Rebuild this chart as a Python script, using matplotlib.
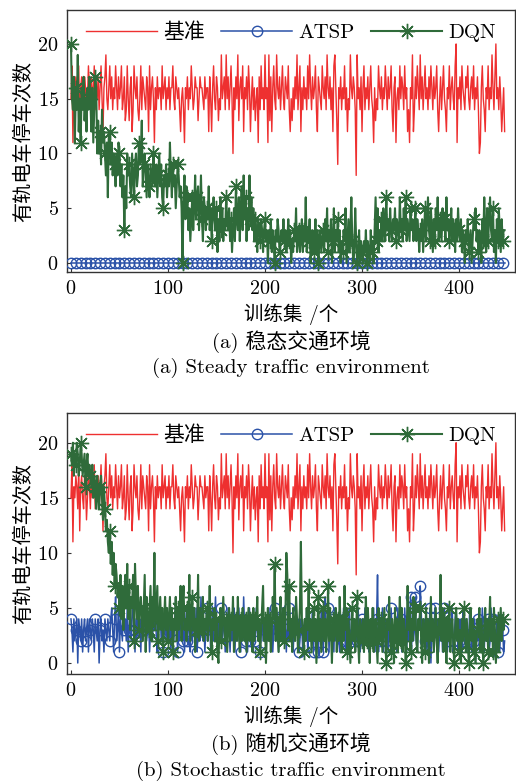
import numpy as np
import matplotlib
matplotlib.use("Agg")
import matplotlib.pyplot as plt

# ============================================================
# Data (stop counts per training episode)
# ============================================================
baseline = [
    15, 18, 11, 16, 15, 17, 16, 14, 18, 12, 16, 17, 15, 14, 17, 16, 13, 15, 18, 16,
    14, 17, 15, 16, 18, 14, 16, 15, 17, 14, 16, 18, 15, 12, 16, 17, 19, 15, 14, 16,
    18, 15, 17, 14, 16, 15, 18, 16, 14, 17, 15, 16, 18, 14, 15, 17, 13, 14, 18, 15,
    13, 16, 17, 12, 14, 18, 16, 15, 17, 14, 13, 15, 18, 14, 17, 16, 15, 14, 17, 16,
    12, 18, 14, 16, 17, 15, 11, 16, 14, 17, 15, 16, 16, 14, 18, 15, 16, 17, 14, 16,
    15, 17, 14, 16, 16, 18, 15, 14, 17, 16, 15, 16, 14, 12, 15, 16, 14, 11, 16, 15,
    17, 14, 16, 15, 18, 16, 14, 15, 17, 16, 16, 13, 15, 17, 16, 16, 15, 14, 17, 15,
    16, 16, 12, 17, 15, 12, 16, 18, 15, 14, 17, 16, 13, 15, 14, 19, 15, 16, 17, 14,
    19, 15, 17, 14, 16, 18, 15, 10, 16, 14, 17, 15, 19, 13, 16, 17, 15, 18, 12, 16,
    15, 17, 14, 18, 16, 12, 15, 17, 14, 16, 13, 15, 16, 11, 17, 14, 18, 15, 16, 14,
    19, 15, 16, 11, 19, 13, 17, 12, 16, 18, 15, 14, 19, 16, 15, 17, 14, 16, 18, 15,
    14, 17, 16, 15, 18, 14, 12, 15, 13, 16, 14, 17, 15, 19, 14, 16, 18, 12, 16, 14,
    17, 15, 16, 14, 18, 15, 19, 16, 14, 17, 15, 16, 18, 14, 12, 17, 16, 15, 14, 18,
    16, 15, 17, 14, 19, 16, 15, 17, 14, 16, 12, 18, 19, 16, 13, 9, 16, 15, 17, 14,
    16, 15, 18, 14, 16, 12, 15, 14, 19, 16, 15, 17, 16, 14, 8, 19, 15, 16, 14, 17,
    12, 16, 18, 14, 16, 15, 17, 14, 16, 18, 15, 14, 11, 16, 13, 15, 14, 18, 16, 15,
    17, 14, 16, 15, 18, 16, 14, 17, 15, 16, 18, 14, 12, 16, 17, 11, 15, 16, 14, 18,
    15, 17, 16, 14, 18, 15, 16, 12, 14, 11, 16, 15, 19, 12, 14, 17, 15, 18, 16, 14,
    19, 15, 17, 14, 16, 18, 15, 16, 14, 17, 15, 18, 16, 14, 17, 15, 16, 18, 14, 12,
    15, 17, 14, 16, 18, 15, 14, 12, 16, 15, 18, 14, 16, 17, 15, 14, 18, 20, 11, 16,
    15, 17, 14, 18, 16, 15, 14, 17, 16, 18, 15, 14, 16, 17, 15, 18, 14, 16, 15, 17,
    14, 10, 11, 16, 18, 15, 14, 12, 16, 15, 18, 14, 16, 15, 19, 16, 14, 17, 20, 15,
    16, 14, 17, 15, 12, 14, 16, 12,
]

# (a) steady traffic: ATSP never stops
atsp_steady = [0] * len(baseline)

dqn_steady = [
    20, 15, 14, 17, 11, 16, 14, 19, 12, 15, 11, 16, 14, 17, 13, 15, 12, 16, 14, 17,
    15, 12, 16, 11, 14, 17, 16, 10, 13, 10, 12, 9, 14, 11, 12, 10, 8, 11, 6, 12,
    12, 9, 11, 8, 10, 9, 7, 10, 8, 11, 10, 7, 9, 6, 8, 3, 7, 5, 10, 8,
    9, 7, 6, 10, 8, 6, 9, 10, 7, 8, 11, 9, 10, 13, 7, 9, 10, 8, 6, 9,
    7, 6, 9, 8, 7, 10, 8, 7, 9, 6, 8, 10, 7, 9, 6, 5, 8, 7, 9, 6,
    8, 7, 11, 8, 6, 9, 7, 8, 5, 7, 9, 8, 6, 7, 5, 0, 6, 8, 4, 7,
    6, 3, 5, 2, 4, 6, 3, 5, 8, 4, 6, 7, 3, 5, 8, 4, 2, 6, 5, 3,
    5, 4, 7, 3, 5, 2, 4, 6, 4, 3, 5, 1, 4, 2, 6, 3, 5, 2, 4, 3,
    6, 4, 3, 5, 2, 4, 1, 3, 5, 2, 7, 4, 3, 6, 2, 5, 7, 3, 8, 4,
    6, 2, 5, 3, 8, 4, 6, 3, 5, 2, 4, 3, 1, 4, 3, 2, 4, 3, 1, 3,
    4, 2, 3, 0, 3, 2, 4, 1, 3, 2, 0, 3, 2, 4, 3, 1, 2, 3, 2, 4,
    2, 3, 1, 2, 4, 2, 3, 0, 2, 1, 3, 2, 5, 1, 2, 3, 1, 2, 4, 1,
    3, 2, 6, 1, 3, 2, 4, 0, 2, 3, 1, 2, 4, 1, 3, 0, 2, 3, 1, 2,
    3, 1, 4, 2, 5, 1, 3, 2, 4, 0, 2, 5, 1, 3, 2, 4, 1, 3, 0, 2,
    1, 3, 2, 5, 0, 2, 4, 1, 3, 6, 2, 0, 1, 5, 2, 0, 1, 3, 0, 2,
    1, 0, 2, 1, 3, 0, 2, 1, 0, 3, 1, 2, 0, 3, 6, 2, 5, 1, 3, 2,
    4, 2, 5, 3, 2, 6, 3, 4, 2, 5, 3, 2, 4, 3, 5, 2, 4, 3, 2, 6,
    3, 4, 2, 5, 3, 6, 2, 4, 3, 2, 5, 3, 4, 2, 3, 5, 2, 4, 3, 1,
    3, 2, 4, 1, 3, 5, 2, 4, 6, 3, 2, 5, 3, 1, 4, 2, 5, 3, 6, 2,
    4, 3, 2, 5, 3, 4, 2, 6, 3, 4, 2, 3, 5, 2, 4, 3, 1, 4, 2, 5,
    3, 2, 4, 1, 3, 2, 0, 3, 2, 4, 1, 2, 3, 0, 2, 4, 3, 5, 2, 3,
    1, 3, 2, 0, 4, 2, 6, 3, 1, 5, 2, 4, 6, 3, 2, 5, 1, 3, 0, 4,
    2, 5, 3, 1, 4, 2, 3, 3,
]

# (b) stochastic traffic
atsp_stochastic = [
    4, 3, 1, 4, 2, 3, 4, 0, 4, 3, 2, 4, 1, 3, 4, 2, 3, 4, 1, 4,
    3, 2, 4, 3, 1, 4, 3, 2, 4, 0, 3, 4, 2, 3, 1, 4, 3, 2, 4, 3,
    2, 4, 5, 3, 1, 4, 6, 2, 3, 5, 1, 4, 3, 2, 6, 3, 4, 2, 5, 1,
    3, 5, 2, 4, 6, 3, 1, 4, 2, 5, 3, 4, 1, 5, 2, 3, 4, 6, 2, 3,
    4, 1, 3, 5, 2, 4, 3, 6, 2, 1, 4, 3, 5, 2, 4, 1, 3, 5, 2, 4,
    3, 2, 5, 1, 4, 3, 2, 4, 6, 3, 1, 4, 2, 5, 3, 2, 4, 1, 3, 5,
    2, 4, 3, 1, 5, 2, 4, 3, 2, 5, 1, 3, 4, 2, 6, 3, 2, 4, 1, 3,
    5, 2, 3, 4, 1, 3, 5, 2, 4, 6, 3, 1, 4, 2, 3, 5, 2, 4, 3, 1,
    4, 2, 5, 3, 1, 4, 2, 3, 5, 1, 4, 3, 2, 5, 3, 1, 4, 2, 6, 3,
    2, 4, 1, 3, 5, 2, 4, 3, 1, 4, 2, 5, 3, 2, 4, 1, 3, 5, 2, 4,
    3, 1, 4, 2, 5, 3, 2, 4, 1, 3, 5, 2, 4, 3, 1, 4, 2, 3, 5, 2,
    4, 3, 1, 4, 2, 5, 3, 2, 4, 1, 3, 2, 5, 3, 4, 1, 2, 4, 3, 1,
    3, 4, 2, 5, 1, 3, 4, 2, 3, 5, 1, 4, 2, 3, 4, 1, 3, 2, 5, 3,
    1, 4, 6, 2, 3, 5, 1, 4, 2, 3, 4, 1, 5, 2, 3, 4, 2, 1, 4, 3,
    2, 5, 3, 1, 4, 2, 3, 5, 1, 3, 2, 4, 3, 1, 4, 2, 5, 3, 1, 2,
    4, 3, 1, 5, 2, 3, 4, 1, 2, 4, 3, 2, 5, 1, 3, 4, 8, 1, 3, 4,
    2, 5, 1, 3, 4, 2, 3, 1, 4, 2, 5, 3, 1, 2, 4, 3, 1, 5, 2, 3,
    4, 1, 3, 2, 5, 3, 1, 4, 2, 3, 6, 1, 4, 2, 3, 6, 2, 1, 4, 3,
    7, 5, 1, 3, 4, 2, 3, 1, 4, 2, 5, 0, 3, 4, 1, 5, 3, 2, 4, 1,
    3, 2, 4, 1, 3, 5, 2, 4, 1, 3, 2, 4, 3, 5, 1, 2, 4, 5, 3, 1,
    2, 4, 3, 1, 5, 2, 3, 4, 1, 3, 2, 5, 4, 1, 3, 2, 4, 0, 3, 2,
    4, 1, 3, 2, 5, 3, 1, 4, 2, 3, 4, 1, 2, 5, 3, 4, 1, 3, 2, 4,
    1, 3, 1, 4, 2, 3, 1, 2,
]

dqn_stochastic = [
    19, 18, 20, 17, 19, 18, 20, 19, 17, 18, 20, 19, 17, 18, 19, 16, 18, 19, 17, 18,
    17, 16, 18, 15, 17, 16, 14, 17, 15, 14, 16, 17, 15, 13, 16, 14, 12, 13, 11, 10,
    12, 9, 11, 8, 10, 7, 9, 8, 6, 7, 5, 8, 4, 7, 3, 6, 8, 5, 9, 4,
    7, 3, 6, 5, 8, 2, 9, 6, 4, 7, 3, 5, 6, 4, 2, 5, 8, 1, 6, 4,
    3, 5, 7, 2, 6, 4, 10, 3, 5, 7, 2, 4, 6, 3, 5, 1, 4, 6, 3, 5,
    2, 4, 6, 3, 5, 1, 4, 3, 6, 2, 5, 3, 4, 7, 2, 5, 7, 3, 4, 2,
    5, 3, 8, 2, 4, 6, 3, 5, 1, 4, 3, 8, 2, 5, 4, 3, 6, 2, 4, 3,
    5, 2, 4, 7, 3, 1, 4, 3, 5, 2, 4, 1, 0, 3, 5, 2, 4, 6, 3, 2,
    4, 1, 3, 5, 2, 4, 3, 6, 1, 3, 4, 2, 6, 3, 1, 4, 2, 5, 3, 2,
    4, 1, 3, 5, 2, 4, 3, 1, 5, 2, 4, 3, 6, 2, 4, 1, 3, 5, 7, 2,
    4, 0, 3, 5, 2, 4, 1, 3, 6, 4, 9, 2, 5, 3, 1, 4, 6, 2, 3, 5,
    2, 4, 10, 8, 3, 7, 2, 4, 1, 5, 3, 2, 6, 4, 1, 3, 5, 11, 4, 3,
    1, 4, 2, 5, 3, 7, 2, 4, 1, 3, 5, 2, 4, 0, 3, 6, 2, 4, 1, 3,
    5, 2, 4, 1, 3, 7, 2, 5, 3, 0, 4, 2, 3, 5, 1, 4, 2, 6, 3, 1,
    4, 2, 7, 3, 5, 1, 4, 2, 0, 3, 5, 2, 4, 1, 3, 6, 2, 0, 4, 3,
    2, 4, 1, 3, 6, 2, 5, 3, 0, 4, 2, 5, 1, 3, 4, 2, 0, 5, 3, 2,
    4, 1, 3, 5, 2, 0, 4, 3, 6, 2, 1, 4, 3, 0, 5, 2, 4, 1, 3, 6,
    2, 5, 1, 4, 3, 0, 2, 7, 3, 5, 1, 4, 2, 6, 3, 5, 2, 1, 4, 3,
    5, 2, 0, 4, 3, 1, 5, 2, 4, 0, 3, 6, 2, 4, 1, 3, 5, 2, 0, 4,
    3, 8, 2, 5, 1, 4, 3, 0, 4, 2, 5, 1, 3, 4, 2, 0, 3, 5, 2, 4,
    1, 3, 0, 4, 2, 5, 3, 1, 4, 2, 0, 3, 5, 2, 4, 1, 3, 0, 2, 4,
    3, 5, 1, 4, 2, 0, 3, 5, 2, 4, 1, 3, 6, 2, 4, 1, 5, 3, 0, 2,
    4, 1, 3, 5, 2, 4, 3, 4,
]

series_names = ["基准", "ATSP", "DQN"]
x_ticks = [0, 100, 200, 300, 400]
y_ticks = [0, 5, 10, 15, 20]
y_label = "有轨电车停车次数"
x_label = "训练集 /个"
captions = [
    ("(a) 稳态交通环境", "(a) Steady traffic environment"),
    ("(b) 随机交通环境", "(b) Stochastic traffic environment"),
]

# ============================================================
# Style
# ============================================================
COLOR_BASE = "#ee3030"
COLOR_ATSP = "#2b52a8"
COLOR_DQN = "#2f6b3a"
FONT = ["cmr10", "Noto Sans CJK SC", "DejaVu Sans"]

plt.rcParams["font.family"] = FONT
plt.rcParams["axes.formatter.use_mathtext"] = True
plt.rcParams["axes.unicode_minus"] = False

W, H = 516, 784
fig = plt.figure(figsize=(W / 100, H / 100), dpi=100)


def px_box(left, top, right, bottom):
    return [left / W, 1 - bottom / H, (right - left) / W, (bottom - top) / H]


def draw_panel(ax, atsp, dqn, ylim, text_px, caption):
    ax.plot(np.arange(len(baseline)), baseline, color=COLOR_BASE,
            linewidth=1.0, label=series_names[0], zorder=2)
    ax.plot(np.arange(len(atsp)), atsp, color=COLOR_ATSP, linewidth=1.1,
            marker="o", markersize=7.5, markerfacecolor="none",
            markeredgewidth=1.0, markevery=5, label=series_names[1], zorder=3)
    ax.plot(np.arange(len(dqn)), dqn, color=COLOR_DQN, linewidth=1.5,
            marker=(8, 2, 0), markersize=11, markeredgewidth=1.0,
            markevery=5, label=series_names[2], zorder=4)

    ax.set_xlim(-4.1, 457.7)
    ax.set_ylim(*ylim)
    ax.set_xticks(x_ticks)
    ax.set_yticks(y_ticks)
    ax.tick_params(direction="in", top=False, right=False, length=3,
                   labelsize=14.5, pad=6, color="#333333")
    for s in ax.spines.values():
        s.set_color("#333333")
        s.set_linewidth(1.0)

    ax.set_ylabel(y_label, fontsize=14.5, labelpad=3)

    ax.legend(loc="upper center", bbox_to_anchor=(0.5, 1.0), ncol=3,
              frameon=False, fontsize=15, handlelength=3.4,
              handletextpad=0.3, columnspacing=0.8, borderaxespad=0.2)

    # axis title and two-line caption, centred under the axes
    xc = (67 + 515) / 2 / W
    fig.text(xc, 1 - text_px[0] / H, x_label, ha="center", va="center",
             fontsize=14)
    fig.text(xc, 1 - text_px[1] / H, caption[0], ha="center",
             va="center", fontsize=15)
    fig.text(xc, 1 - text_px[2] / H, caption[1], ha="center",
             va="center", fontsize=15)


ax_top = fig.add_axes(px_box(67, 10, 515, 272))
draw_panel(ax_top, atsp_steady, dqn_steady, (-0.82, 23.1),
           (314, 342, 368), captions[0])

ax_bot = fig.add_axes(px_box(67, 413, 515, 674))
draw_panel(ax_bot, atsp_stochastic, dqn_stochastic, (-1.0, 22.7),
           (716, 744, 771), captions[1])

fig.savefig("out.png", dpi=100)
